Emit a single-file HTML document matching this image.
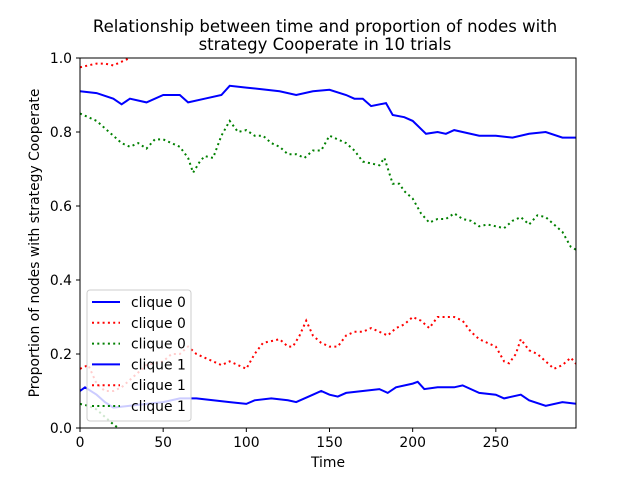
<!DOCTYPE html>
<html><head><meta charset="utf-8"><style>
html,body{margin:0;padding:0;background:#fff;}
svg{display:block;font-family:"DejaVu Sans","Liberation Sans",sans-serif;}
</style></head><body>
<svg id="chart" width="640" height="480">
<rect x="0" y="0" width="640" height="480" fill="#fff"/>
<text x="325" y="32" text-anchor="middle" font-size="16.5">Relationship between time and proportion of nodes with</text>
<text x="325" y="50" text-anchor="middle" font-size="16.5">strategy Cooperate in 10 trials</text>
<defs><clipPath id="clip"><rect x="80" y="58" width="496" height="370"/></clipPath></defs>
<g id="series" clip-path="url(#clip)"></g>
<rect x="80" y="58" width="496" height="370" fill="none" stroke="#000" stroke-width="1"/>
<g id="axes"></g>
<text x="328" y="467" text-anchor="middle" font-size="13.9">Time</text>
<text transform="translate(39,243) rotate(-90)" text-anchor="middle" font-size="13.9">Proportion of nodes with strategy Cooperate</text>
<g id="legend">
<rect x="87" y="290" width="104" height="131" rx="3" fill="#fff" fill-opacity="0.8" stroke="#ccc"/>
</g>
</svg>
<script>
const xTicks=[0,50,100,150,200,250];
const yTicks=[0.0,0.2,0.4,0.6,0.8,1.0];
const c0BlueT=[0,10,20,25,30,40,50,60,65,75,85,90,100,110,120,130,140,150,160,165,170,175,184,188,195,200,208,215,220,225,230,240,250,260,270,280,290,299];
const c0BlueV=[0.91,0.905,0.89,0.875,0.89,0.88,0.90,0.90,0.88,0.89,0.90,0.925,0.92,0.915,0.91,0.90,0.91,0.914,0.90,0.89,0.89,0.87,0.878,0.846,0.84,0.83,0.795,0.80,0.795,0.805,0.80,0.79,0.79,0.785,0.795,0.80,0.785,0.785];
const c0RedT=[0,5,10,15,20,25,30,33];
const c0RedV=[0.975,0.98,0.985,0.985,0.98,0.99,1.0,1.01];
const c0GreenT=[0,5,10,15,20,25,30,35,40,45,50,55,60,65,68,72,75,80,85,90,95,100,105,110,115,120,125,130,135,140,145,150,155,160,165,170,175,180,183,188,192,195,200,205,210,215,220,225,230,235,240,245,250,255,260,265,270,275,280,285,290,295,299];
const c0GreenV=[0.85,0.84,0.83,0.81,0.79,0.77,0.76,0.77,0.755,0.78,0.78,0.77,0.76,0.73,0.69,0.72,0.735,0.73,0.79,0.83,0.80,0.805,0.79,0.79,0.77,0.76,0.74,0.74,0.73,0.75,0.75,0.79,0.78,0.77,0.75,0.72,0.715,0.71,0.73,0.66,0.66,0.64,0.62,0.58,0.555,0.565,0.565,0.58,0.565,0.56,0.545,0.55,0.545,0.54,0.56,0.57,0.55,0.575,0.57,0.55,0.53,0.49,0.48];
const c1BlueT=[0,3,10,15,20,30,40,50,60,70,80,90,100,105,115,125,130,140,145,150,155,160,170,180,185,190,200,203,207,215,225,230,240,250,255,265,270,280,290,299];
const c1BlueV=[0.10,0.11,0.09,0.07,0.055,0.06,0.065,0.07,0.08,0.08,0.075,0.07,0.065,0.075,0.08,0.075,0.07,0.09,0.10,0.09,0.085,0.095,0.10,0.105,0.095,0.11,0.12,0.125,0.105,0.11,0.11,0.115,0.095,0.09,0.08,0.09,0.075,0.06,0.07,0.065];
const c1RedT=[0,5,10,15,20,25,30,40,50,55,60,65,70,75,80,85,90,95,100,105,110,115,120,125,128,132,136,140,145,150,155,160,165,170,175,180,185,190,195,200,205,210,215,220,225,230,235,240,245,250,255,258,262,265,270,275,280,285,290,295,299];
const c1RedV=[0.16,0.17,0.12,0.10,0.10,0.11,0.13,0.17,0.18,0.20,0.20,0.22,0.20,0.19,0.18,0.17,0.18,0.17,0.16,0.20,0.23,0.235,0.24,0.22,0.22,0.25,0.29,0.25,0.23,0.22,0.22,0.25,0.26,0.26,0.27,0.26,0.25,0.27,0.28,0.30,0.29,0.27,0.30,0.30,0.30,0.29,0.26,0.24,0.23,0.22,0.18,0.175,0.20,0.24,0.21,0.20,0.18,0.16,0.17,0.19,0.17];
const c1GreenT=[0,5,10,15,20,23,26];
const c1GreenV=[0.065,0.06,0.05,0.03,0.01,0.0,-0.01];
const legendLabels=["clique 0","clique 0","clique 0","clique 1","clique 1","clique 1"];

const NS="http://www.w3.org/2000/svg";
function xs(t){return 80+t*496/298.2;}
function ys(v){return 428-v*370;}
const g=document.getElementById('series');
const ax=document.getElementById('axes');
function mk(tag,attrs,parent){const e=document.createElementNS(NS,tag);for(const k in attrs)e.setAttribute(k,attrs[k]);parent.appendChild(e);return e;}
xTicks.forEach(t=>{
  const l=mk('line',{x1:xs(t),x2:xs(t),y1:428,y2:432,stroke:'#000'},ax);
  
  
  const tx=mk('text',{x:xs(t),y:447,'text-anchor':'middle','font-size':'13.9'},ax);
  tx.textContent=t;
  
  
});
yTicks.forEach(v=>{
  const l=mk('line',{x1:76,x2:80,y1:ys(v),y2:ys(v),stroke:'#000'},ax);
  
  
  const tx=mk('text',{x:72,y:ys(v)+5,'text-anchor':'end','font-size':'13.9'},ax);
  tx.textContent=v.toFixed(1);
  
  
});
const series=[
 [c0BlueT,c0BlueV,'#0000ff',false,'clique0-blue-line'],
 [c0RedT,c0RedV,'#ff0000',true,'clique0-red-line'],
 [c0GreenT,c0GreenV,'#008000',true,'clique0-green-line'],
 [c1BlueT,c1BlueV,'#0000ff',false,'clique1-blue-line'],
 [c1RedT,c1RedV,'#ff0000',true,'clique1-red-line'],
 [c1GreenT,c1GreenV,'#008000',true,'clique1-green-line']];
series.forEach(s=>{
  const d=s[0].map((t,i)=>(i?'L':'M')+xs(t).toFixed(1)+','+ys(s[1][i]).toFixed(1)).join(' ');
  const p=mk('path',{d:d,fill:'none',stroke:s[2],'stroke-width':2},g);
  if(s[3])p.setAttribute('stroke-dasharray','2,3.3');
  
  
});
const lg=document.getElementById('legend');
legendLabels.forEach((lab,i)=>{
  const y=302+i*20.8;
  const s=series[i];
  const l=mk('line',{x1:92,x2:120,y1:y,y2:y,stroke:s[2],'stroke-width':2},lg);
  if(s[3])l.setAttribute('stroke-dasharray','2,3.3');
  
  
  const t=mk('text',{x:131,y:y+5,'font-size':'13.9'},lg);
  t.textContent=lab;
  
  
});
</script>
</body></html>
